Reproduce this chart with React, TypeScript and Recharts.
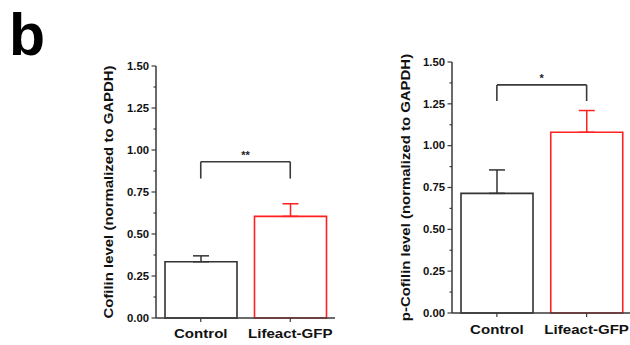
import React from 'react';
import { BarChart, Bar, XAxis, YAxis, ErrorBar, Cell, ReferenceLine } from 'recharts';

const categories = ['Control', 'Lifeact-GFP'];
const cofilinMeans = [0.335, 0.605];
const cofilinErrors = [0.035, 0.075];
const pCofilinMeans = [0.715, 1.08];
const pCofilinErrors = [0.14, 0.13];
const yMajorTicks = [0, 0.25, 0.5, 0.75, 1.0, 1.25, 1.5];
const yMinorTicks = [0.125, 0.375, 0.625, 0.875, 1.125, 1.375];
const cofilinBracket = [0.83, 0.93];
const pCofilinBracket = [1.267, 1.363];
const sigLabels = ['**', '*'];
const yLabels = ['Cofilin level (normalized to GAPDH)', 'p-Cofilin level (normalized to GAPDH)'];
const barColors = ['#333333', '#ff2020'];

const axisColor = '#3a3a3a';
const FONT = '"Liberation Sans", Arial, sans-serif';
const allTicks = [...yMajorTicks, ...yMinorTicks].sort((a, b) => a - b);

const YTick = (props: any) => {
  const { x, y, payload } = props;
  const v = payload.value as number;
  const major = yMajorTicks.some((t) => Math.abs(t - v) < 1e-9);
  return (
    <g>
      <line x1={x - (major ? 4.5 : 2.5)} x2={x} y1={y} y2={y} stroke={axisColor} strokeWidth={1.2} />
      {major && (
        <text
          transform={`translate(${x - 7},${y}) scale(1.08,1)`}
          textAnchor="end"
          dy="0.36em"
          fontSize={10.5}
          fontWeight="bold"
          fontFamily={FONT}
          fill="#111"
        >
          {v.toFixed(2)}
        </text>
      )}
    </g>
  );
};

const makeXTick = (dy: number) => (props: any) => {
  const { x, y, payload } = props;
  return (
    <text
      transform={`translate(${x},${y}) scale(1.16,1)`}
      textAnchor="middle"
      dy={dy}
      fontSize={13}
      fontWeight="bold"
      fontFamily={FONT}
      fill="#111"
    >
      {payload.value}
    </text>
  );
};

const makeYLabel = (text: string, cx: number) => (props: any) => {
  const vb = props.viewBox || {};
  const cy = vb.y + vb.height / 2;
  return (
    <text
      transform={`translate(${cx},${cy}) rotate(-90) scale(1.15,1)`}
      textAnchor="middle"
      dy="0.36em"
      fontSize={13}
      fontWeight="bold"
      fontFamily={FONT}
      fill="#111"
    >
      {text}
    </text>
  );
};

const makeSig = (text: string) => (props: any) => {
  const vb = props.viewBox || {};
  return (
    <text
      x={vb.x + vb.width / 2}
      y={vb.y - 3}
      textAnchor="middle"
      fontSize={11}
      fontWeight="bold"
      fontFamily={FONT}
      fill="#222"
    >
      {text}
    </text>
  );
};

type PanelProps = {
  means: number[];
  errors: number[];
  bracket: number[];
  sig: string;
  yLabel: string;
  left: number;
  width: number;
  yAxisWidth: number;
  marginTop: number;
  marginRight: number;
  xAxisHeight: number;
  labelX: number;
  xLabelDy: number;
};

const Panel = (p: PanelProps) => {
  const data = categories.map((name, i) => ({
    name,
    value: p.means[i],
    errA: i === 0 ? [0, p.errors[i]] : undefined,
    errB: i === 1 ? [0, p.errors[i]] : undefined,
  }));
  return (
    <div style={{ position: 'absolute', left: p.left, top: 0 }}>
      <BarChart
        width={p.width}
        height={345}
        data={data}
        margin={{ top: p.marginTop, right: p.marginRight, bottom: 0, left: 0 }}
      >
        <XAxis
          dataKey="name"
          type="category"
          height={p.xAxisHeight}
          axisLine={{ stroke: axisColor, strokeWidth: 1.5 }}
          tickLine={{ stroke: axisColor, strokeWidth: 1.2 }}
          tickSize={4}
          tickMargin={0}
          interval={0}
          tick={makeXTick(p.xLabelDy)}
        />
        <YAxis
          type="number"
          domain={[0, 1.5]}
          ticks={allTicks}
          interval={0}
          width={p.yAxisWidth}
          axisLine={{ stroke: axisColor, strokeWidth: 1.5 }}
          tickLine={false}
          tickSize={0}
          tickMargin={0}
          tick={<YTick />}
          label={makeYLabel(p.yLabel, p.labelX)}
        />
        <Bar dataKey="value" barSize={72} fill="#ffffff" strokeWidth={1.6} isAnimationActive={false}>
          {data.map((d, i) => (
            <Cell key={d.name} stroke={barColors[i]} fill="#ffffff" />
          ))}
          <ErrorBar dataKey="errA" direction="y" width={8} stroke={barColors[0]} strokeWidth={1.5} isAnimationActive={false} />
          <ErrorBar dataKey="errB" direction="y" width={8} stroke={barColors[1]} strokeWidth={1.5} isAnimationActive={false} />
        </Bar>
        <ReferenceLine
          segment={[
            { x: categories[0], y: p.bracket[1] },
            { x: categories[1], y: p.bracket[1] },
          ]}
          stroke={axisColor}
          strokeWidth={1.6}
          label={makeSig(p.sig)}
        />
        <ReferenceLine
          segment={[
            { x: categories[0], y: p.bracket[0] },
            { x: categories[0], y: p.bracket[1] },
          ]}
          stroke={axisColor}
          strokeWidth={1.6}
        />
        <ReferenceLine
          segment={[
            { x: categories[1], y: p.bracket[0] },
            { x: categories[1], y: p.bracket[1] },
          ]}
          stroke={axisColor}
          strokeWidth={1.6}
        />
      </BarChart>
    </div>
  );
};

export default function App() {
  return (
    <div
      style={{
        position: 'absolute',
        left: 0,
        top: 0,
        width: 630,
        height: 345,
        overflow: 'hidden',
        background: '#ffffff',
      }}
    >
      <svg width={100} height={80} style={{ position: 'absolute', left: 0, top: 0 }}>
        <text x={9} y={55} fontSize={59} fontWeight="bold" fontFamily={FONT} fill="#000">
          b
        </text>
      </svg>
      <Panel
        means={cofilinMeans}
        errors={cofilinErrors}
        bracket={cofilinBracket}
        sig={sigLabels[0]}
        yLabel={yLabels[0]}
        left={0}
        width={345}
        yAxisWidth={156}
        marginTop={66}
        marginRight={10}
        xAxisHeight={27}
        labelX={108}
        xLabelDy={16}
      />
      <Panel
        means={pCofilinMeans}
        errors={pCofilinErrors}
        bracket={pCofilinBracket}
        sig={sigLabels[1]}
        yLabel={yLabels[1]}
        left={300}
        width={335}
        yAxisWidth={152}
        marginTop={62}
        marginRight={3.5}
        xAxisHeight={32}
        labelX={105}
        xLabelDy={17}
      />
    </div>
  );
}
